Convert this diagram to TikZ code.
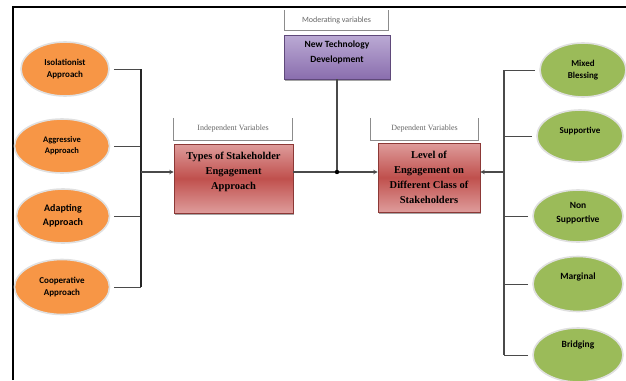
\documentclass[tikz,border=0pt]{standalone}
\usepackage{fontspec}
\setmainfont{Liberation Serif}
\newfontfamily\calibfont{Carlito}
\usetikzlibrary{shapes.geometric,arrows.meta,shadows}
\definecolor{orangefill}{HTML}{F79646}
\definecolor{greenfill}{HTML}{9BBB59}
\definecolor{redmid}{HTML}{C0504D}
\definecolor{redlight}{HTML}{DE9C9B}
\definecolor{redline}{HTML}{8C3836}
\definecolor{purmid}{HTML}{8A6EAE}
\definecolor{purlight}{HTML}{BBAAD4}
\definecolor{purline}{HTML}{5F497A}
\definecolor{connline}{HTML}{4A4A4A}

\begin{document}
\begin{tikzpicture}[x=1pt,y=-1pt,>={Stealth[length=4.5pt,width=4.5pt]},
    oval/.style={ellipse, draw=black!12, line width=1.6pt, minimum width=88pt, minimum height=54pt,
        inner sep=0pt, align=center, font=\calibfont\bfseries\fontsize{9}{12}\selectfont},
    approach/.style={oval, fill=orangefill},
    stakeclass/.style={oval, fill=greenfill},
    varbox/.style={rectangle, draw=redline, line width=0.6pt, top color=redlight, bottom color=redlight,
        middle color=redmid, drop shadow={shadow xshift=1.2pt, shadow yshift=-1.8pt, fill=black!70},
        align=center, inner sep=2pt, font=\bfseries\fontsize{10.5}{15}\selectfont},
    techbox/.style={rectangle, draw=purline, line width=0.6pt, top color=purlight, bottom color=purmid,
        drop shadow={shadow xshift=1.2pt, shadow yshift=-1.8pt, fill=black!70},
        align=center, inner sep=2pt, font=\calibfont\bfseries\fontsize{9.5}{15}\selectfont},
    varlabel/.style={rectangle, inner sep=0pt, text=black!60},
    labelline/.style={draw=black!45, line width=0.9pt},
    stub/.style={draw=connline, line width=1pt, shorten <=4pt},
    bar/.style={draw=black!85, line width=1.3pt},
    conn/.style={draw=connline, line width=1.1pt}]

    \useasboundingbox (0,0) rectangle (626,380);
    \draw[line width=1.6pt] (13,380) -- (13,7) -- (626,7);

    \node[approach] (iso) at (65,69) {Isolationist\\Approach};
    \node[approach, minimum width=95pt, font=\calibfont\bfseries\fontsize{8.5}{11}\selectfont] (aggr) at (62,146) {Aggressive\\Approach};
    \node[approach, minimum width=93pt, font=\calibfont\bfseries\fontsize{10}{14}\selectfont] (adapt) at (63,216) {Adapting\\Approach};
    \node[approach, minimum width=95pt, minimum height=55pt] (coop) at (62,287) {Cooperative\\Approach};

    \node[varlabel, minimum width=118pt, minimum height=22pt, font=\fontsize{8}{10}\selectfont] (indep) at (233,129) {Independent Variables};
    \draw[labelline] (indep.north west) -- (indep.south west) -- (indep.south east) -- (indep.north east);
    \node[varbox, minimum width=119pt, minimum height=69pt] (types) at (233.5,178.5) {Types of Stakeholder\\Engagement\\Approach\\\mbox{}};

    \node[varlabel, minimum width=103pt, minimum height=20pt, font=\calibfont\fontsize{8}{10}\selectfont] (moder) at (336.5,20) {Moderating variables};
    \draw[labelline] (moder.north west) -- (moder.south west) -- (moder.south east) -- (moder.north east);
    \node[techbox, minimum width=106pt, minimum height=44pt] (newtech) at (337,57) {New Technology\\Development\\[-4pt]\mbox{}};

    \node[varlabel, minimum width=107pt, minimum height=22pt, font=\fontsize{8}{10}\selectfont] (dep) at (424.5,129) {Dependent Variables};
    \draw[labelline] (dep.north west) -- (dep.south west) -- (dep.south east) -- (dep.north east);
    \node[varbox, minimum width=102pt, minimum height=69pt] (level) at (429,177.5) {Level of\\Engagement on\\Different Class of\\Stakeholders};

    \node[stakeclass, minimum width=86pt] (mixed) at (583,70) {Mixed\\Blessing};
    \node[stakeclass, minimum width=86pt, minimum height=52pt] (supp) at (580,136) {Supportive\\\mbox{}};
    \node[stakeclass, minimum width=90pt, minimum height=52pt, font=\calibfont\bfseries\fontsize{9.5}{14}\selectfont] (nonsupp) at (578,216) {Non\\Supportive\\[-6pt]\mbox{}};
    \node[stakeclass, minimum width=90pt, minimum height=55pt, font=\calibfont\bfseries\fontsize{9.5}{16}\selectfont] (marg) at (578,284) {Marginal\\\mbox{}};
    \node[stakeclass, minimum width=90pt, minimum height=54pt, font=\calibfont\bfseries\fontsize{9.5}{22}\selectfont] (bridg) at (578,355) {Bridging\\\mbox{}};

    \coordinate (lbar) at (141,172);
    \coordinate (join) at (337,172);
    \coordinate (rbar) at (504,172);

    \foreach \e in {iso,aggr,adapt,coop}
        \draw[stub] (\e) -- (\e -| lbar);
    \draw[bar] (iso -| lbar) -- (coop -| lbar);
    \draw[conn,->] (lbar) -- (lbar -| types.west);

    \draw[conn] (newtech) -- (join);
    \draw[conn,->] (join -| types.east) -- (join -| level.west);
    \fill (join) circle (2.2pt);

    \foreach \e in {mixed,supp,nonsupp,marg,bridg}
        \draw[stub] (\e) -- (\e -| rbar);
    \draw[conn] (mixed -| rbar) -- (bridg -| rbar);
    \draw[conn,->] (rbar) -- (rbar -| level.east);
\end{tikzpicture}
\end{document}
